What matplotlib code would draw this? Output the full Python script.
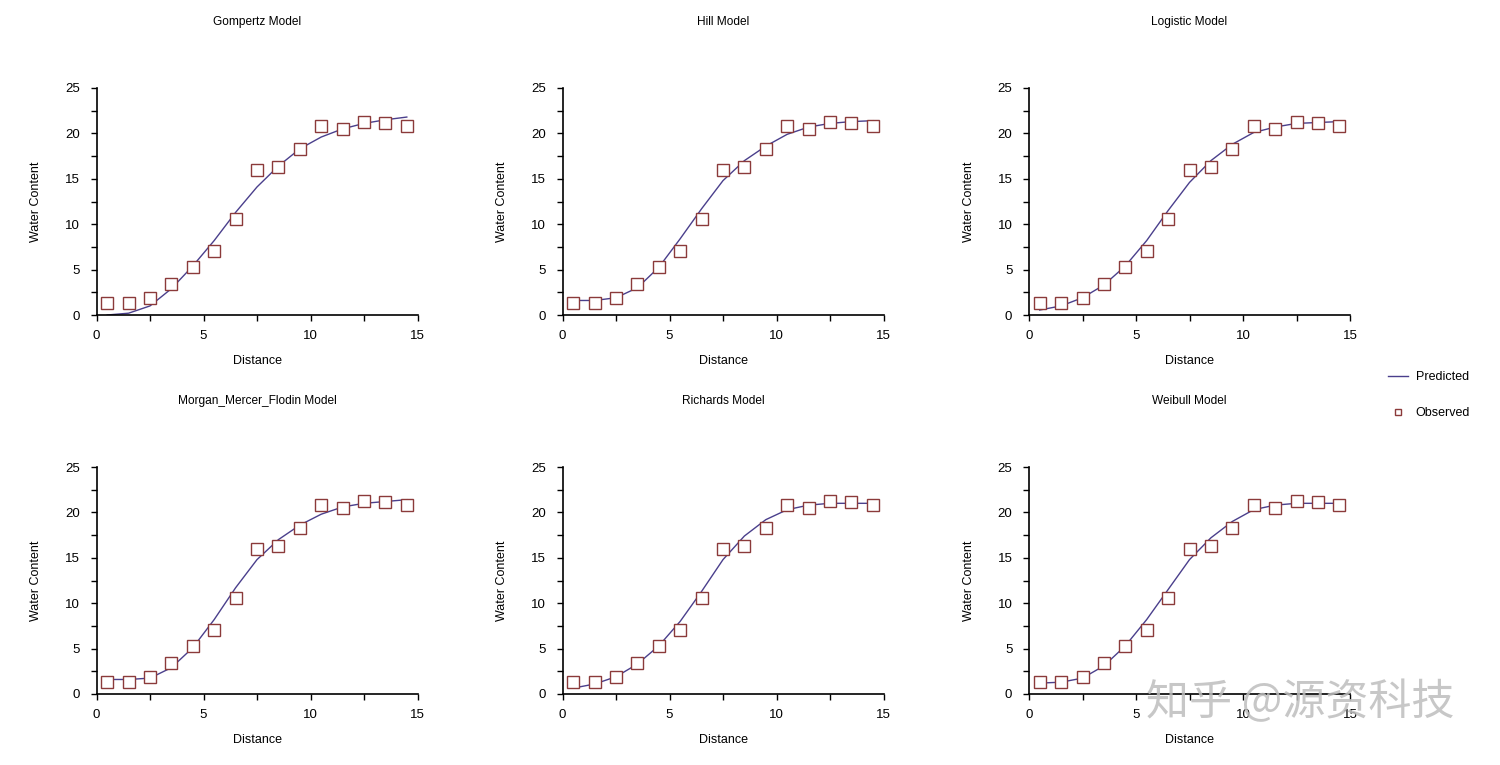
import matplotlib
matplotlib.use('Agg')
import matplotlib.pyplot as plt
from matplotlib.ticker import MultipleLocator

plt.rcParams['font.family'] = ['Liberation Sans', 'DejaVu Sans']
plt.rcParams['font.size'] = 9

# observed data (same in every panel)
distance = [0.5, 1.5, 2.5, 3.5, 4.5, 5.5, 6.5, 7.5, 8.5, 9.5, 10.5, 11.5, 12.5, 13.5, 14.5]
observed = [1.3, 1.3, 1.9, 3.4, 5.25, 7.05, 10.6, 15.95, 16.3, 18.25, 20.85, 20.45, 21.3, 21.1, 20.85]

# predicted values read at the same distances
models = ['Gompertz Model', 'Hill Model', 'Logistic Model',
          'Morgan_Mercer_Flodin Model', 'Richards Model', 'Weibull Model']
pred_gompertz = [0.0, 0.2, 1.0, 2.9, 5.4, 8.2, 11.3, 14.1, 16.4, 18.3, 19.6, 20.5, 21.1, 21.5, 21.8]
pred_hill = [1.6, 1.6, 1.9, 3.0, 5.25, 8.4, 11.7, 14.8, 17.0, 18.6, 19.9, 20.7, 21.1, 21.3, 21.4]
pred_logistic = [0.55, 1.0, 1.9, 3.3, 5.4, 8.2, 11.5, 14.6, 17.0, 18.8, 20.1, 20.7, 21.1, 21.2, 21.3]
pred_mmf = [1.6, 1.6, 1.75, 2.9, 5.1, 8.2, 11.7, 14.8, 17.0, 18.6, 19.8, 20.6, 21.0, 21.2, 21.4]
pred_richards = [0.65, 1.1, 1.9, 3.3, 5.3, 8.0, 11.3, 14.8, 17.4, 19.2, 20.3, 20.8, 21.0, 21.0, 21.0]
pred_weibull = [1.2, 1.3, 1.75, 3.1, 5.3, 8.2, 11.5, 14.8, 17.2, 19.0, 20.3, 20.8, 21.0, 21.0, 21.0]
predicted = [pred_gompertz, pred_hill, pred_logistic, pred_mmf, pred_richards, pred_weibull]

W, H = 1500, 765
fig = plt.figure(figsize=(15, 7.65), dpi=100)

lefts = [96.5, 562.5, 1029]
bottoms = [315, 694]
ax_w, ax_h = 321, 227

LINE_COLOR = '#4a3f8c'
MARK_COLOR = '#8b3a3a'

handles = None
for i, name in enumerate(models):
    r, c = divmod(i, 3)
    ax = fig.add_axes([lefts[c] / W, 1 - bottoms[r] / H, ax_w / W, ax_h / H])
    l1, = ax.plot(distance, predicted[i], color=LINE_COLOR, lw=1.0, label='Predicted')
    l2, = ax.plot(distance, observed, ls='none', marker='s', ms=8, mfc='white',
                  mec=MARK_COLOR, mew=1.0, label='Observed')
    if handles is None:
        handles = [l1, l2]
    ax.set_xlim(0, 15)
    ax.set_ylim(0, 25)
    ax.xaxis.set_major_locator(MultipleLocator(5))
    ax.xaxis.set_minor_locator(MultipleLocator(2.5))
    ax.yaxis.set_major_locator(MultipleLocator(5))
    ax.yaxis.set_minor_locator(MultipleLocator(2.5))
    ax.tick_params(which='both', direction='out', length=4, width=1)
    ax.tick_params(axis='x', labelsize=9.5, pad=7)
    ax.tick_params(axis='y', labelsize=9.5, pad=8)
    for s in ['top', 'right']:
        ax.spines[s].set_visible(False)
    for s in ['left', 'bottom']:
        ax.spines[s].set_linewidth(1.2)
    ax.text(0.5, -0.203, 'Distance', transform=ax.transAxes, ha='center', va='center', fontsize=9)
    ax.text(-0.188, 0.5, 'Water Content', transform=ax.transAxes, ha='center', va='center',
            rotation=90, fontsize=9)
    ax.text(0.5, 1.0 + 66 / ax_h, name, transform=ax.transAxes, ha='center', va='center',
            fontsize=8.6)

fig.legend(handles=handles, loc='upper left', bbox_to_anchor=(1377 / W, 1 - 360 / H),
           frameon=False, fontsize=9, handlelength=1.6, labelspacing=1.9, handletextpad=0.6,
           markerscale=0.6)

# watermark
fig.text(1300 / W, 1 - 703 / H, '知乎 @源资科技', ha='center', va='center', fontsize=31,
         color='#bdbdbd', alpha=0.85, family=['Noto Sans CJK SC', 'DejaVu Sans'])

fig.savefig('out.png', dpi=100, facecolor='white')
